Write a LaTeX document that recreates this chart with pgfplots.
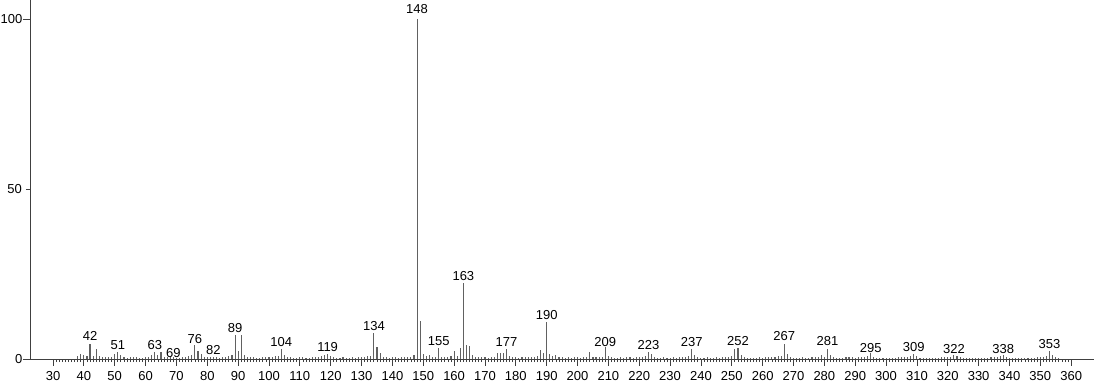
\documentclass[border=0pt]{standalone}
\usepackage{fontspec}
\setmainfont{Liberation Sans}
\usepackage{pgfplots}
\usepackage{pgfplotstable}
\pgfplotsset{compat=1.18}
\pgfplotstableread{
mz int
38 0.8
39 1.6
40 1.1
41 0.9
42 4.4
43 1.0
44 2.8
45 0.8
46 0.5
47 0.5
48 0.6
49 0.7
50 1.5
51 2.1
52 1.1
53 0.6
54 0.4
55 0.6
56 0.5
57 0.6
58 0.4
59 0.4
60 0.5
61 0.7
62 1.1
63 2.2
64 1.2
65 2.0
66 0.7
67 0.5
68 0.5
69 0.6
70 0.4
71 0.4
72 0.5
73 0.6
74 0.9
75 1.1
76 4.1
77 2.4
78 1.6
79 0.7
80 0.5
81 0.5
82 0.7
83 0.5
84 0.4
85 0.5
86 0.6
87 0.8
88 1.2
89 7.0
90 2.5
91 7.0
92 1.3
93 0.6
94 0.5
95 0.5
96 0.4
97 0.4
98 0.5
99 0.5
100 0.6
101 0.7
102 0.8
103 0.9
104 2.9
105 1.3
106 0.6
107 0.5
108 0.4
109 0.4
110 0.5
111 0.5
112 0.4
113 0.4
114 0.5
115 0.6
116 0.7
117 0.9
118 1.1
119 1.6
120 0.8
121 0.5
122 0.4
123 0.4
124 0.5
125 0.4
126 0.4
127 0.5
128 0.4
129 0.5
130 0.6
131 0.6
132 0.8
133 1.0
134 7.6
135 3.4
136 1.8
137 0.7
138 0.5
139 0.4
140 0.5
141 0.5
142 0.4
143 0.5
144 0.5
145 0.6
146 0.7
147 1.3
148 100
149 11.2
150 1.5
151 0.8
152 1.2
153 0.6
154 0.6
155 3.2
156 0.7
157 0.5
158 0.6
159 0.8
160 2.3
161 0.9
162 3.3
163 22.4
164 4.1
165 3.9
166 1.3
167 0.6
168 0.5
169 0.5
170 0.5
171 0.4
172 0.5
173 0.7
174 1.8
175 1.8
176 1.9
177 2.9
178 0.9
179 0.5
180 0.5
181 0.4
182 0.5
183 0.5
184 0.5
185 0.5
186 0.7
187 0.8
188 2.7
189 1.8
190 10.8
191 1.6
192 0.8
193 1.1
194 0.6
195 0.5
196 0.4
197 0.5
198 0.4
199 0.5
200 0.5
201 0.4
202 0.5
203 0.6
204 2.0
205 0.7
206 0.5
207 0.5
208 0.7
209 3.5
210 0.9
211 0.5
212 0.4
213 0.4
214 0.5
215 0.4
216 0.5
217 0.5
218 0.4
219 0.5
220 0.5
221 0.6
222 0.9
223 2.2
224 1.6
225 0.6
226 0.4
227 0.4
228 0.5
229 0.4
230 0.4
231 0.5
232 0.4
233 0.5
234 0.5
235 0.6
236 0.8
237 2.9
238 1.1
239 0.5
240 0.4
241 0.4
242 0.5
243 0.4
244 0.4
245 0.5
246 0.4
247 0.5
248 0.5
249 0.6
250 0.9
251 2.9
252 3.2
253 1.1
254 0.5
255 0.4
256 0.4
257 0.4
258 0.4
259 0.5
260 0.4
261 0.5
262 0.5
263 0.5
264 0.6
265 0.9
266 1.0
267 4.3
268 1.5
269 0.7
270 0.4
271 0.4
272 0.4
273 0.5
274 0.4
275 0.4
276 0.5
277 0.5
278 0.7
279 1.3
280 0.7
281 2.9
282 1.1
283 0.5
284 0.4
285 0.4
286 0.4
287 0.5
288 0.5
289 0.6
290 0.4
291 0.5
292 0.6
293 0.6
294 0.8
295 1.7
296 0.7
297 0.4
298 0.4
299 0.4
300 0.4
301 0.4
302 0.4
303 0.4
304 0.5
305 0.5
306 0.6
307 0.7
308 0.8
309 1.5
310 0.8
311 0.4
312 0.4
313 0.4
314 0.4
315 0.4
316 0.4
317 0.4
318 0.5
319 0.5
320 0.6
321 0.7
322 1.1
323 0.9
324 0.6
325 0.4
326 0.4
327 0.4
328 0.4
329 0.4
330 0.4
331 0.4
332 0.4
333 0.4
334 0.5
335 0.5
336 0.7
337 0.8
338 1.1
339 0.7
340 0.4
341 0.4
342 0.4
343 0.4
344 0.4
345 0.4
346 0.4
347 0.4
348 0.4
349 0.5
350 0.5
351 0.6
352 0.8
353 2.4
354 1.1
355 0.7
356 0.4
}\spectrum
\pgfplotstableread{
mz y
42 5.38
51 2.65
63 2.85
69 0.5
76 4.6
82 1.4
89 7.7
104 3.8
119 2.15
134 8.5
148 101.7
155 4.1
163 23.2
177 3.8
190 11.5
209 3.8
223 2.65
237 3.8
252 4.1
267 5.4
281 4.1
295 1.85
309 2.15
322 1.5
338 1.5
353 3.15
}\peaklabels
\begin{document}
\begin{tikzpicture}
\begin{axis}[
  scale only axis, width=1064pt, height=359pt,
  at={(0,0)}, anchor=south west,
  xmin=22.54, xmax=367.4, ymin=0, ymax=105.59,
  axis x line=bottom, axis y line=left,
  axis line style={-, black!75, line width=0.8pt},
  xtick={30,40,...,360}, minor x tick num=9,
  ytick={0,100},
  extra y ticks={50},
  extra y tick style={major tick length=4pt, yticklabel style={xshift=-3pt}},
  tick align=outside,
  major tick length=6.5pt, minor tick length=3pt,
  tick style={black!75, line width=0.8pt},
  /pgf/number format/assume math mode=true,
  ticklabel style={font=\fontsize{13}{13}\selectfont},
  xticklabel style={yshift=-2.7pt},
  yticklabel style={inner xsep=1pt},
  clip=false,
]
\addplot[ycomb, black!62, line width=1.1pt] table[x=mz, y=int] {\spectrum};
\addplot[only marks, mark=none,
  nodes near coords={\pgfmathprintnumber[int detect]{\pgfplotspointmeta}},
  point meta=x,
  nodes near coords style={anchor=base, inner sep=0pt, font=\fontsize{13}{13}\selectfont, text=black},
  /pgf/number format/assume math mode=true]
  table[x=mz, y=y] {\peaklabels};
\end{axis}
\pgfresetboundingbox
\path[use as bounding box] (-30pt,-25pt) rectangle (1064pt,359pt);
\end{tikzpicture}
\end{document}
